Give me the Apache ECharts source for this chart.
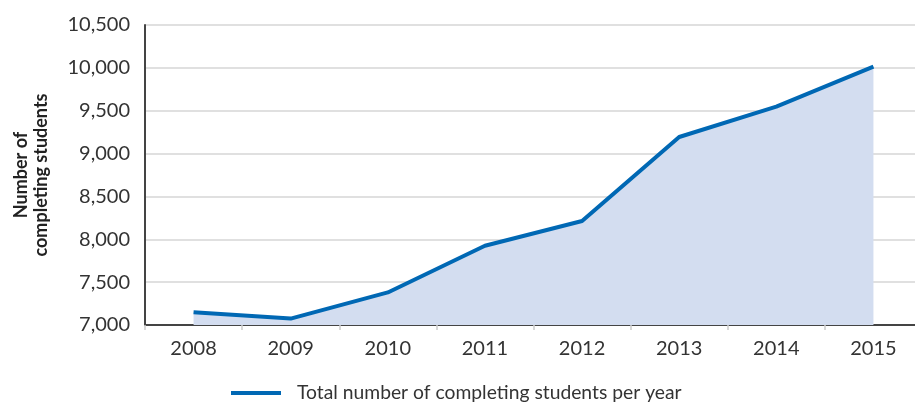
<!DOCTYPE html>
<html>
<head>
<meta charset="utf-8">
<script src="https://cdn.jsdelivr.net/npm/echarts@6/dist/echarts.min.js"></script>
<style>
  html, body { margin: 0; padding: 0; background: #fff; }
  #chart { width: 915px; height: 402px; }
</style>
</head>
<body>
<div id="chart"></div>
<script>
// Completing students per year
const years = ['2008', '2009', '2010', '2011', '2012', '2013', '2014', '2015'];
const completingStudents = [7150, 7075, 7380, 7925, 8213, 9193, 9547, 10015];
const seriesName = 'Total number of completing students per year';
const yAxisTitle = 'Number of\ncompleting students';

const font = 'Lato, "Open Sans", sans-serif';
const chart = echarts.init(document.getElementById('chart'), null, { renderer: 'canvas' });

chart.setOption({
  animation: false,
  grid: {
    left: 145, width: 777, top: 25, height: 300,
    containLabel: false, outerBoundsMode: 'none'
  },
  legend: {
    top: 377,
    left: 226,
    itemWidth: 50,
    itemHeight: 4,
    icon: 'rect',
    textStyle: { fontFamily: font, fontSize: 19.3, color: '#333', lineHeight: 22, padding: [0, 0, 0, 11] },
    data: [seriesName]
  },
  xAxis: {
    type: 'category',
    data: years,
    boundaryGap: true,
    axisLine: { lineStyle: { color: '#444', width: 2 } },
    axisTick: { show: true, length: 5, lineStyle: { color: '#cccccc', width: 1.5 } },
    axisLabel: { fontFamily: font, fontSize: 20, color: '#333', margin: 14 }
  },
  yAxis: {
    type: 'value',
    min: 7000,
    max: 10500,
    interval: 500,
    name: yAxisTitle,
    nameLocation: 'middle',
    nameGap: 94,
    nameTextStyle: { fontFamily: font, fontSize: 18, fontWeight: 'bold', color: '#222', lineHeight: 20 },
    axisLine: { show: true, lineStyle: { color: '#444', width: 2 } },
    axisTick: { show: false },
    splitLine: { lineStyle: { color: '#d6d6d6', width: 1.5 } },
    axisLabel: {
      fontFamily: font, fontSize: 20, color: '#333', margin: 15,
      formatter: v => v.toLocaleString('en-US')
    }
  },
  series: [{
    name: seriesName,
    type: 'line',
    data: completingStudents,
    symbol: 'none',
    lineStyle: { color: '#0068b4', width: 4 },
    itemStyle: { color: '#0068b4' },
    areaStyle: { color: '#d3ddf0', opacity: 1, origin: 'start' },
    z: 3
  }]
});
</script>
</body>
</html>
